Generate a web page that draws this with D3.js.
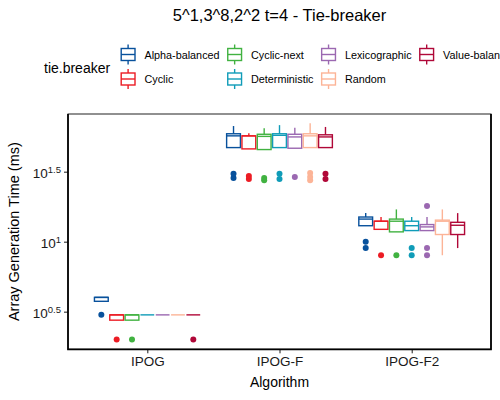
<!DOCTYPE html>
<html>
<head>
<meta charset="utf-8">
<script src="https://cdn.jsdelivr.net/npm/d3@7"></script>
<style>
  body { margin: 0; background: #fff; }
  text { font-family: "Liberation Sans", Arial, sans-serif; }
</style>
</head>
<body>
<div id="chart"></div>
<script>
// categories
const algorithms = ["IPOG", "IPOG-F", "IPOG-F2"]
const tieBreakers = ["Alpha-balanced", "Cyclic", "Cyclic-next", "Deterministic", "Lexicographic", "Random", "Value-balanced"]
const tieColors = ["#08519c", "#ec1c24", "#41b241", "#109cb8", "#9b68b1", "#fcb497", "#b00838"]

// box stats in ms, one entry per algorithm: [lower whisker, q1, median, q3, upper whisker]
const alphaBalanced = [[3.75, 3.75, 4, 4, 4], [47, 47, 57, 59, 67], [13, 13, 14.5, 15, 16]]
const cyclic        = [[2.75, 2.75, 3, 3, 3], [46, 46, 57, 57, 59.5], [12.25, 12.25, 14, 14, 15]]
const cyclicNext    = [[2.75, 2.75, 3, 3, 3], [45.5, 45.5, 56.5, 58.5, 64.5], [11.75, 11.75, 14, 14.5, 17]]
const deterministic = [[3, 3, 3, 3, 3], [47, 47, 57.5, 59, 68], [12, 12, 13, 14, 15]]
const lexicographic = [[3, 3, 3, 3, 3], [46.5, 46.5, 56, 58.5, 65], [12, 12, 12.75, 13.25, 15]]
const randomTB      = [[3, 3, 3, 3, 3], [47, 47, 57, 59, 70], [8, 11.25, 14, 14.25, 17]]
const valueBalanced = [[3, 3, 3, 3, 3], [47, 47, 56, 58, 66], [9, 11.25, 13.1, 13.75, 16]]

// outliers in ms, one list per algorithm
const alphaBalancedOut = [[3], [28.5, 30.5], [9, 10]]
const cyclicOut        = [[2], [28, 29.5], [8]]
const cyclicNextOut    = [[2], [27.5, 28.5], [8]]
const deterministicOut = [[], [28, 30.5], [8, 9]]
const lexicographicOut = [[], [29], [8, 9, 18]]
const randomOut        = [[], [27.5, 29, 31], []]
const valueBalancedOut = [[2], [28, 30.5], []]

const yTicks = [Math.pow(10, 0.5), 10, Math.pow(10, 1.5)]
const yTickExp = ["0.5", "1", "1.5"]

const statsList = [alphaBalanced, cyclic, cyclicNext, deterministic, lexicographic, randomTB, valueBalanced]
const outList = [alphaBalancedOut, cyclicOut, cyclicNextOut, deterministicOut, lexicographicOut, randomOut, valueBalancedOut]

const boxes = []
const points = []
tieBreakers.forEach((tb, i) => {
    algorithms.forEach((alg, j) => {
        const s = statsList[i][j]
        boxes.push({tb: tb, alg: alg, lo: s[0], q1: s[1], med: s[2], q3: s[3], hi: s[4]})
        outList[i][j].forEach(v => points.push({tb: tb, alg: alg, v: v}))
    })
})

const width = 500
const height = 400
const panelLeft = 68, panelRight = 491, panelTop = 114, panelBottom = 349.3

const color = d3.scaleOrdinal().domain(tieBreakers).range(tieColors)

const xScale = d3.scalePoint()
    .domain(algorithms)
    .range([panelLeft, panelRight])
    .padding(0.6)

const step = xScale.step()
const dodge = d3.scaleBand()
    .domain(tieBreakers)
    .range([-0.4 * step, 0.4 * step])
    .paddingInner(0.1)

const yScale = d3.scaleLog()
    .domain([Math.pow(10, 0.2312), Math.pow(10, 1.912)])
    .range([panelBottom, panelTop])

const svg = d3.select("#chart")
    .append("svg")
    .attr("width", width)
    .attr("height", height)

svg.append("rect")
    .attr("width", width)
    .attr("height", height)
    .attr("fill", "#fff")

// title
svg.append("text")
    .text("5^1,3^8,2^2 t=4 - Tie-breaker")
    .attr("x", (panelLeft + panelRight) / 2)
    .attr("y", 21)
    .attr("text-anchor", "middle")
    .attr("font-size", "16.5px")

// legend
const legend = svg.append("g")
legend.append("text")
    .text("tie.breaker")
    .attr("x", 44)
    .attr("y", 72.5)
    .attr("font-size", "14px")

const rowY = [54.5, 79]
let colX = 119.5
const nCols = 4
for (let c = 0; c < nCols; c++) {
    let maxW = 0
    for (let r = 0; r < 2; r++) {
        const k = c * 2 + r
        if (k >= tieBreakers.length) continue
        const tb = tieBreakers[k]
        const g = legend.append("g").attr("transform", "translate(" + colX + "," + rowY[r] + ")")
        g.append("line")
            .attr("x1", 8.6).attr("x2", 8.6).attr("y1", -10).attr("y2", 10)
            .attr("stroke", color(tb)).attr("stroke-width", 1.4)
        g.append("rect")
            .attr("x", 1.7).attr("y", -6).attr("width", 13.8).attr("height", 12)
            .attr("fill", "#fff").attr("stroke", color(tb)).attr("stroke-width", 1.4)
        g.append("line")
            .attr("x1", 1.7).attr("x2", 15.5).attr("y1", 0).attr("y2", 0)
            .attr("stroke", color(tb)).attr("stroke-width", 1.4)
        const t = g.append("text")
            .text(tb)
            .attr("x", 25)
            .attr("y", 4)
            .attr("font-size", "10.8px")
        maxW = Math.max(maxW, t.node().getComputedTextLength())
    }
    colX = colX + 25 + maxW + 6.5
}

// axes
const xAxis = d3.axisBottom(xScale).tickSize(4).tickPadding(3)
const xg = svg.append("g")
    .attr("transform", "translate(0," + panelBottom + ")")
    .call(xAxis)
xg.select(".domain").remove()
xg.selectAll("text").attr("font-size", "13.5px").attr("fill", "#1a1a1a").attr("font-family", null)
xg.selectAll("line").attr("stroke", "#1a1a1a")

const yAxis = d3.axisLeft(yScale).tickValues(yTicks).tickSize(4).tickPadding(3)
const yg = svg.append("g")
    .attr("transform", "translate(" + panelLeft + ",0)")
    .call(yAxis)
yg.select(".domain").remove()
yg.selectAll("line").attr("stroke", "#1a1a1a")
yg.selectAll("text")
    .attr("font-family", null)
    .attr("fill", "#1a1a1a")
    .attr("font-size", "13.5px")
    .attr("dy", "0.45em")
    .each(function(d, i) {
        const t = d3.select(this)
        t.text(null)
        t.append("tspan").text("10")
        t.append("tspan").text(yTickExp[i]).attr("font-size", "9.5px").attr("dy", "-0.55em")
    })

// axis titles
svg.append("text")
    .text("Algorithm")
    .attr("x", (panelLeft + panelRight) / 2)
    .attr("y", 387)
    .attr("text-anchor", "middle")
    .attr("font-size", "14px")

svg.append("text")
    .text("Array Generation Time (ms)")
    .attr("transform", "translate(19," + (panelTop + panelBottom) / 2 + ") rotate(-90)")
    .attr("text-anchor", "middle")
    .attr("font-size", "14.5px")

// boxplots
const bx = d => xScale(d.alg) + dodge(d.tb)
const bw = dodge.bandwidth()
const bg = svg.append("g")

bg.selectAll(".whisker")
    .data(boxes)
    .join("line")
    .attr("class", "whisker")
    .attr("x1", d => bx(d) + bw / 2)
    .attr("x2", d => bx(d) + bw / 2)
    .attr("y1", d => yScale(d.lo))
    .attr("y2", d => yScale(d.hi))
    .attr("stroke", d => color(d.tb))
    .attr("stroke-width", 1.4)

bg.selectAll(".box")
    .data(boxes)
    .join("rect")
    .attr("class", "box")
    .attr("x", d => bx(d))
    .attr("y", d => yScale(d.q3))
    .attr("width", bw)
    .attr("height", d => yScale(d.q1) - yScale(d.q3))
    .attr("fill", "#fff")
    .attr("stroke", d => color(d.tb))
    .attr("stroke-width", 1.4)

bg.selectAll(".median")
    .data(boxes)
    .join("line")
    .attr("class", "median")
    .attr("x1", d => bx(d))
    .attr("x2", d => bx(d) + bw)
    .attr("y1", d => yScale(d.med))
    .attr("y2", d => yScale(d.med))
    .attr("stroke", d => color(d.tb))
    .attr("stroke-width", 1.4)

bg.selectAll("circle")
    .data(points)
    .join("circle")
    .attr("cx", d => xScale(d.alg) + dodge(d.tb) + bw / 2)
    .attr("cy", d => yScale(d.v))
    .attr("r", 3)
    .attr("fill", d => color(d.tb))

// panel frame
svg.append("rect")
    .attr("x", panelLeft)
    .attr("y", panelTop)
    .attr("width", panelRight - panelLeft)
    .attr("height", panelBottom - panelTop)
    .attr("fill", "none")
    .attr("stroke", "#222")
    .attr("stroke-width", 1)
svg.append("path")
    .attr("d", "M" + panelLeft + "," + panelTop + "V" + panelBottom + "H" + panelRight + "V" + panelTop)
    .attr("fill", "none")
    .attr("stroke", "#000")
    .attr("stroke-width", 1.7)
</script>
</body>
</html>
